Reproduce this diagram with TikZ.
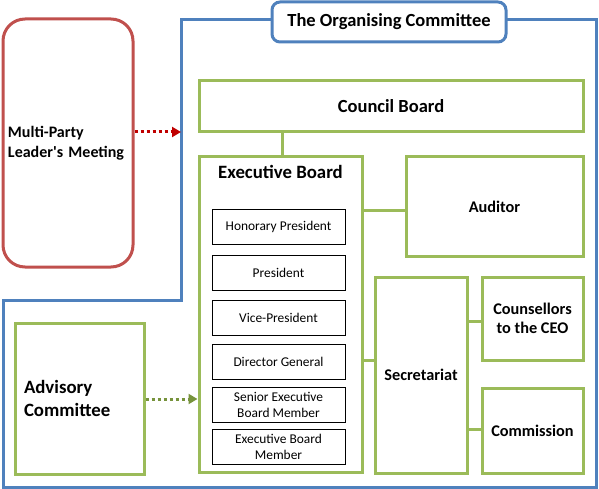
\documentclass[tikz,border=0pt]{standalone}
\usepackage{fontspec}
\setmainfont{Carlito}
\usetikzlibrary{arrows.meta}
\definecolor{oblue}{HTML}{4F81BD}
\definecolor{ogreen}{HTML}{9BBB59}
\definecolor{ored}{HTML}{C0504D}
\definecolor{darrow}{HTML}{C00000}
\definecolor{garrow}{HTML}{77933C}
\tikzset{
  gbox/.style={draw=ogreen, line width=3pt, fill=white, inner sep=0pt, align=center, font=\bfseries\fontsize{16.3}{19}\selectfont},
  ibox/.style={draw=black, line width=1pt, fill=white, inner sep=0pt, align=center, minimum width=133pt, minimum height=35pt, font=\fontsize{13.4}{16}\selectfont},
  gline/.style={draw=ogreen, line width=3pt},
  rdot/.style={draw=darrow, line width=3pt, dash pattern=on 3pt off 3pt, -{Triangle[length=9pt,width=10pt]}},
  gdot/.style={draw=garrow, line width=3pt, dash pattern=on 3pt off 3pt, -{Triangle[length=9pt,width=10pt]}},
}
\begin{document}
\begin{tikzpicture}[x=1pt,y=-1pt]
\useasboundingbox (0,0) rectangle (599,489);
% organising committee frame
\draw[oblue, line width=3pt, line join=miter] (181,20) -- (596,20) -- (596,487) -- (3,487) -- (3,300) -- (181,300) -- cycle;
\node[draw=oblue, line width=3pt, rounded corners=8pt, fill=white, minimum width=234pt, minimum height=40pt, inner sep=0pt, font=\bfseries\fontsize{18.5}{22}\selectfont] (title) at (389,22) {The Organising Committee};
% red box
\node[draw=ored, line width=3pt, rounded corners=22pt, fill=white, minimum width=130pt, minimum height=248pt, text width=120pt, inner xsep=5pt, inner ysep=0pt, align=left, font=\bfseries\fontsize{16}{20}\selectfont] (mplm) at (68,143) {Multi-Party\\Leader\textquotesingle s Meeting};
% green boxes
\node[gbox, minimum width=384pt, minimum height=51pt, font=\bfseries\fontsize{18.5}{22}\selectfont] (council) at (391,106.5) {Council Board};
\node[gbox, minimum width=163pt, minimum height=315pt] (exec) at (280.5,314.5) {};
\node[font=\bfseries\fontsize{18.8}{22}\selectfont, inner sep=0pt] (exectitle) at (280.5,172) {Executive Board};
\node[gbox, minimum width=177pt, minimum height=99pt] (auditor) at (494.5,206.5) {Auditor};
\node[gbox, minimum width=92pt, minimum height=196pt] (secr) at (421,375) {Secretariat};
\node[gbox, minimum width=101pt, minimum height=83pt, font=\bfseries\fontsize{16.3}{19}\selectfont] (couns) at (532.5,318.5) {Counsellors\\to the CEO};
\node[gbox, minimum width=101pt, minimum height=85pt] (comm) at (532.5,430.5) {Commission};
\node[gbox, minimum width=129pt, minimum height=151pt, text width=111pt, inner xsep=9pt, align=left, font=\bfseries\fontsize{18.8}{23}\selectfont] (advis) at (79.5,398.5) {Advisory\\Committee};
% inner boxes
\node[ibox] (hp) at (278.5,226.5) {Honorary President};
\node[ibox] (pr) at (278.5,272.5) {President};
\node[ibox] (vp) at (278.5,317.5) {Vice-President};
\node[ibox] (dg) at (278.5,361.5) {Director General};
\node[ibox, font=\fontsize{13.4}{16}\selectfont] (sebm) at (278.5,404.5) {Senior Executive\\Board Member};
\node[ibox, font=\fontsize{13.4}{16}\selectfont] (ebm) at (278.5,446.5) {Executive Board\\Member};
% connectors
\coordinate (cx) at (282,0);
\coordinate (ya) at (0,210);
\coordinate (ys) at (0,360);
\coordinate (yc) at (0,321);
\coordinate (ym) at (0,429);
\coordinate (frameL) at (181,132);
\coordinate (yg) at (0,399);
\draw[gline] (council.south -| cx) -- (exec.north -| cx);
\draw[gline] (exec.east |- ya) -- (auditor.west |- ya);
\draw[gline] (exec.east |- ys) -- (secr.west |- ys);
\draw[gline] (secr.east |- yc) -- (couns.west |- yc);
\draw[gline] (secr.east |- ym) -- (comm.west |- ym);
\draw[rdot] (mplm.east |- frameL) -- (frameL);
\draw[gdot] (advis.east |- yg) -- (exec.west |- yg);
\end{tikzpicture}
\end{document}
